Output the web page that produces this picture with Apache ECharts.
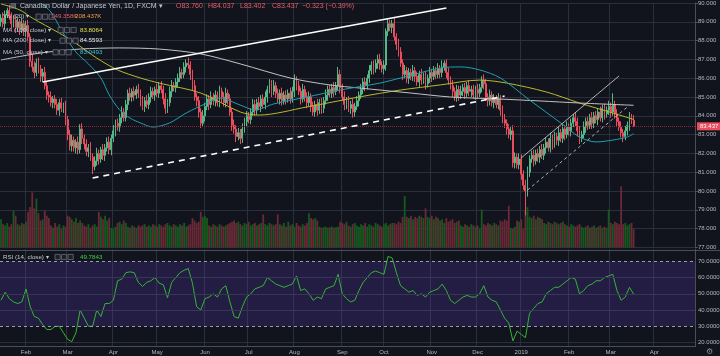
<!DOCTYPE html>
<html><head><meta charset="utf-8">
<script src="https://cdn.jsdelivr.net/npm/echarts/dist/echarts.min.js"></script>
<style>html,body{margin:0;padding:0;background:#11141d;}#c{width:720px;height:356px;}</style>
</head><body><div id="c"></div>
<script>
// ---------- axis / categories ----------
const firstDay = [2018, 0, 16];          // first weekday bar shown
const categoryCount = 334;               // weekday slots incl. empty future area
const monthLabels = ['Jan','Feb','Mar','Apr','May','Jun','Jul','Aug','Sep','Oct','Nov','Dec'];
const priceTicks = {min: 77, max: 90, step: 1};
const rsiTicks = [20, 30, 40, 50, 60, 70];

// ---------- OHLC (daily, FXCM CAD/JPY) ----------
const firstOpen = 89.0;
const closes = [
89.2,88.9,89.4,89.6,89.3,88.9,89.1,88.7,89.0,88.6,
88.9,88.5,88.8,88.2,86.9,86.6,86.3,86.8,86.5,86.1,
86.3,85.6,85.1,85.0,84.7,84.9,84.6,84.3,84.7,84.4,
84.5,83.8,83.0,82.4,82.7,82.3,82.6,82.2,83.3,82.8,
82.5,82.1,82.3,81.8,81.3,81.6,82.0,81.7,82.2,81.9,
82.3,82.6,82.2,82.8,83.2,83.6,83.4,83.9,84.2,83.9,
84.6,85.2,85.0,85.3,85.1,85.4,85.2,84.8,84.5,84.8,
84.6,85.0,85.3,85.1,85.4,85.2,85.6,85.4,84.9,84.4,
84.7,85.3,85.6,85.5,85.8,86.0,86.3,86.2,86.6,86.8,
86.7,86.2,85.6,85.0,84.8,84.2,83.6,84.0,84.5,84.9,
84.6,85.0,84.8,85.1,84.7,85.3,85.0,84.7,85.2,84.9,
84.2,83.5,83.3,82.9,83.1,82.8,83.3,83.7,84.0,83.8,
84.2,84.6,84.3,84.7,84.5,84.9,84.6,85.0,85.4,85.7,
85.3,85.6,85.2,84.9,85.2,84.8,85.1,84.9,85.2,84.9,
85.3,85.9,85.6,85.3,84.9,85.4,85.0,84.7,85.0,84.5,
84.2,84.6,84.3,84.7,84.4,84.8,85.1,85.4,85.2,85.5,
85.3,85.6,86.2,85.5,85.0,84.6,84.8,84.4,84.6,84.2,
84.5,84.8,85.1,85.4,85.8,85.6,86.0,86.4,86.7,86.5,
86.8,87.0,86.7,86.5,86.7,88.5,88.9,88.7,88.9,88.2,
87.8,87.4,86.8,86.2,86.4,86.0,86.3,86.1,86.4,86.1,
85.8,86.2,85.9,86.1,85.7,86.0,86.3,86.1,86.4,86.2,
86.5,86.3,86.6,86.8,86.3,85.9,85.6,85.3,85.0,85.4,
85.1,85.3,85.5,85.2,85.6,85.3,85.4,85.1,85.4,85.2,
85.5,85.9,85.7,85.0,84.8,85.1,84.7,84.9,84.6,84.9,
84.3,83.8,83.6,83.3,83.0,83.2,81.5,81.8,81.4,81.7,
80.9,80.3,80.0,81.0,81.7,81.9,81.6,82.0,81.8,82.2,
81.9,82.3,82.6,82.3,82.8,82.5,82.9,82.7,83.1,82.8,
83.3,83.0,83.4,83.2,83.6,83.9,83.7,83.2,82.8,83.0,
83.4,83.7,83.5,83.9,83.6,84.0,83.8,84.2,83.9,84.4,
84.1,84.3,84.5,84.2,84.6,84.1,83.7,83.4,83.1,82.9,
83.2,83.5,83.9,83.76,83.437];
// upper / lower wick length above / below the body (yen)
const wickHigh = [
.2,.3,.2,.15,.3,.2,.25,.3,.2,.15, .3,.2,.25,.3,.2,.4,.3,.25,.3,.2,
.2,.3,.25,.2,.3,.15,.2,.3,.2,.25, .2,.3,.2,.25,.3,.2,.15,.3,.25,.3,
.2,.25,.2,.3,.2,.25,.3,.2,.15,.3, .2,.25,.3,.2,.3,.2,.25,.2,.3,.2,
.25,.2,.3,.15,.25,.2,.3,.2,.25,.2, .3,.2,.25,.2,.15,.3,.2,.25,.2,.3,
.2,.25,.3,.2,.2,.25,.3,.2,.25,.2, .3,.2,.25,.3,.2,.25,.2,.3,.2,.25,
.2,.3,.2,.25,.2,.3,.2,.25,.3,.2, .25,.2,.3,.2,.25,.2,.3,.2,.25,.2,
.2,.3,.25,.2,.3,.2,.25,.3,.2,.25, .2,.3,.2,.25,.2,.3,.2,.25,.2,.3,
.25,.3,.2,.25,.2,.3,.2,.25,.3,.2, .25,.2,.3,.2,.25,.2,.3,.2,.25,.2,
.3,.2,.4,.25,.2,.3,.2,.25,.2,.3, .2,.25,.2,.3,.2,.25,.2,.3,.2,.25,
.2,.25,.3,.2,.25,.15,.25,.2,.2,.3, .2,.3,.25,.2,.3,.2,.25,.2,.3,.2,
.25,.2,.3,.2,.25,.2,.3,.2,.25,.2, .3,.2,.35,.15,.2,.25,.2,.3,.2,.25,
.2,.3,.2,.25,.2,.3,.2,.25,.2,.3, .2,.2,.3,.25,.2,.3,.2,.25,.2,.3,
.2,.25,.3,.2,.25,.2,.3,.25,.2,.3, .25,.2,.3,.3,.2,.25,.3,.2,.25,.2,
.3,.2,.25,.2,.3,.2,.25,.2,.3,.2, .25,.2,.3,.2,.25,.2,.3,.2,.25,.2,
.3,.2,.25,.2,.3,.2,.25,.2,.3,.2, .25,.2,.3,.2,.6,.2,.25,.2,.3,.2,
.25,.2,.3,.2,.277];
const wickLow = [
.25,.2,.3,.2,.2,.3,.2,.25,.2,.3, .2,.25,.3,.2,.3,.25,.3,.2,.25,.3,
.3,.2,.25,.3,.2,.3,.2,.25,.3,.2, .25,.3,.3,.25,.3,.2,.3,.25,.2,.3,
.3,.25,.3,.2,.4,.2,.25,.3,.2,.25, .3,.2,.25,.3,.2,.3,.2,.25,.3,.2,
.2,.3,.2,.25,.3,.2,.25,.3,.2,.3, .2,.25,.3,.2,.3,.2,.25,.2,.3,.3,
.25,.2,.3,.2,.25,.3,.2,.25,.2,.3, .2,.3,.25,.2,.3,.3,.25,.2,.3,.2,
.3,.2,.25,.3,.2,.25,.3,.2,.25,.3, .2,.3,.25,.3,.2,.3,.25,.2,.3,.2,
.25,.2,.3,.25,.2,.3,.2,.25,.3,.2, .3,.2,.25,.2,.3,.25,.2,.3,.2,.25,
.2,.3,.25,.2,.3,.2,.25,.3,.2,.3, .2,.25,.3,.2,.3,.25,.2,.3,.2,.25,
.3,.2,.25,.3,.2,.3,.25,.2,.3,.3, .25,.2,.3,.2,.25,.3,.2,.25,.2,.3,
.2,.3,.25,.2,.3,.3,.25,.2,.3,.2, .3,.25,.2,.3,.2,.25,.3,.2,.25,.3,
.2,.3,.25,.2,.3,.2,.25,.3,.2,.25, .2,.3,.25,.2,.3,.25,.2,.3,.2,.25,
.3,.2,.25,.3,.2,.25,.3,.2,.25,.3, .2,.25,.3,.2,.3,.25,.2,.3,.2,.25,
.3,.2,.25,.3,.2,.3,.25,.3,.2,.25, .3,.25,1.3,.3,.25,.2,.3,.2,.25,.3,
.2,.25,.3,.2,.25,.3,.2,.25,.3,.2, .25,.3,.2,.25,.3,.2,.25,.3,.3,.2,
.2,.3,.25,.2,.3,.25,.2,.3,.2,.25, .3,.2,.25,.3,.2,.25,.3,.2,.25,.3,
.2,.25,.3,.2,.035];
// daily volume, thousands
const volumesK = [
230,190,180,200,170,190,300,260,190,180, 200,190,210,290,330,450,320,400,280,220,
230,300,260,240,180,160,200,170,190,150, 180,170,260,250,230,210,240,200,220,200,
180,170,190,160,180,190,170,290,250,230, 260,220,240,160,150,170,200,210,190,220,
200,170,160,180,170,160,180,170,180,190, 170,180,170,190,180,170,190,180,170,190,
200,180,170,190,180,170,190,180,200,170, 180,190,240,220,200,210,290,250,260,240,
180,170,190,180,170,190,180,170,180,190, 200,210,220,200,210,190,180,200,190,210,
180,190,200,180,190,200,270,190,180,200, 190,180,190,270,190,180,200,170,210,180,
190,170,200,180,170,190,180,200,280,240, 230,240,220,170,160,165,170,160,165,170,
160,165,170,210,200,190,210,180,170,190, 200,180,170,190,180,200,170,190,180,170,
200,190,180,170,190,200,180,190,200,200, 190,210,200,250,420,250,240,260,230,250,
240,260,250,240,320,250,240,260,230,250, 240,220,230,200,240,210,220,230,200,210,
220,180,170,190,180,170,190,180,170,180, 150,310,190,180,200,190,180,200,190,180,
220,210,230,220,340,160,150,170,220,210, 230,150,300,330,250,240,260,230,250,240,
230,200,190,210,200,190,210,200,190,200, 210,190,180,170,190,180,170,180,190,170,
160,170,180,160,170,180,160,170,180,160, 170,160,310,200,190,210,200,190,500,190,
200,180,190,200,149.358];
// moving averages: [bar index, value]
const ma100 = [[0,89.95],[9,89.63],[15,89.2],[28,88.4],[35,87.93],[46,87.07],[56,86.44],[67,86.01],[76,85.74],[96,85.21],[115,84.2],[124,84.04],[147,84.47],[172,85.0],[192,85.37],[211,85.64],[230,85.9],[243,85.74],[262,85.27],[278,84.68],[294,84.15],[304,83.8064]];
const ma200 = [[0,86.97],[19,87.34],[38,87.55],[57,87.61],[76,87.55],[96,87.29],[115,86.76],[139,86.01],[158,85.64],[172,85.48],[197,85.21],[216,85.0],[240,84.89],[259,84.79],[278,84.68],[304,84.5593]];
const ma50 = [[19,90.0],[24,89.52],[29,88.56],[36,87.39],[42,86.76],[48,86.01],[52,85.11],[57,84.31],[62,83.88],[67,83.62],[73,83.4],[81,83.62],[89,84.15],[99,84.68],[105,84.95],[115,84.57],[122,84.31],[131,84.63],[147,85.0],[163,85.37],[182,85.74],[192,86.01],[211,86.54],[221,86.6],[230,86.44],[240,86.01],[254,84.84],[269,83.62],[278,82.87],[286,82.61],[294,82.71],[301,82.87],[304,83.0493]];
// RSI(14) read every second bar, starting at bar 0
const rsiEvery2 = [
46,51,47,45,44,45,53,42,36,35, 31,28,28,30,30,26,22,20.5,26,40,
35,30,30,40,36,44,44,46,58,59, 63,63.5,63,57,54.5,57,58,60,56.5,55.5,
47.5,57,60,63,64.5,65.5,56.5,42,
40,47,48,50,48,53,55,45,36,35, 42,48,50,53,54,55,60,58,56,55,
54,55,56,61,52,53,50,46,48,47, 53,54,55,62,50,47,45,46,52,57,
60,63,64,63,62,73,72,63,55,53, 51,52,49,50,48,51,52,53,56,52,
46,44,46,48,49,48,48,50,55,48, 46,45,40,35,32,21,27,25,23,38,
41,44,45,50,52,54,54,56,58,60, 59,50,52,55,56,58,58,60,61,62,
52,46,48,54,49.7843];
// hand-drawn trend lines: [bar index, price]
const trendLines = [
  {from:[20,85.80], to:[214,89.73], kind:'main'},
  {from:[44,80.69], to:[242,85.05], kind:'mainDashed'},
  {from:[250,81.76], to:[297,86.12], kind:'thin'},
  {from:[253,80.05], to:[301,84.47], kind:'thinDashed'}
];
const lastPrice = 83.437;

// ---------- build ----------
const categories = [];
{ const d = new Date(Date.UTC(firstDay[0], firstDay[1], firstDay[2]));
  while (categories.length < categoryCount) {
    const wd = d.getUTCDay();
    if (wd !== 0 && wd !== 6) categories.push(d.toISOString().slice(0,10));
    d.setUTCDate(d.getUTCDate() + 1);
  } }
const isMonthStart = i => i > 0 && categories[i].slice(5,7) !== categories[i-1].slice(5,7);
const monthFmt = v => { const m = +v.slice(5,7) - 1; return m === 0 ? v.slice(0,4) : monthLabels[m]; };

const UP = '#53b987', DOWN = '#eb4d5c';
const VUP = '#17581f', VDOWN = '#6a2936';
const GRID = '#2b2f3b', AXIS = '#4a4e5a', LBL = '#b2b5be', TXT = '#c5c8d0', RED = '#e85d6c';

const candles = closes.map((c, i) => {
  const o = i ? closes[i-1] : firstOpen;
  return [o, c, +(Math.min(o,c) - wickLow[i]).toFixed(3), +(Math.max(o,c) + wickHigh[i]).toFixed(3)];
});
const volData = volumesK.map((v, i) => ({value: v, itemStyle: {color: candles[i][1] >= candles[i][0] ? VUP : VDOWN}}));
const rsiData = rsiEvery2.map((v, k) => [2*k, v]);

const trendStyle = {
  main: {color:'#ffffff', width:1.6, type:'solid'},
  mainDashed: {color:'#ffffff', width:1.6, type:[6,5]},
  thin: {color:'#d8d8d8', width:0.8, type:'solid'},
  thinDashed: {color:'#d8d8d8', width:0.8, type:[3,3]}
};
const trendData = trendLines.map(t => [{coord: t.from, lineStyle: trendStyle[t.kind]}, {coord: t.to}]);

// header text
const hdr = [];
function txt(x, y, t, c, fs) { hdr.push({type:'text', x, y, silent:true, z:100, style:{text:t, fill:c, fontSize: fs || 7, fontFamily:'Liberation Sans', align:'left', verticalAlign:'middle'}}); }
function icons(x, y) { for (let k = 0; k < 3; k++) hdr.push({type:'rect', silent:true, z:100, shape:{x: x + k*6.5, y: y - 2.6, width:5.2, height:5.2}, style:{fill:'#1c1f2a', stroke:'#6b6f7a', lineWidth:0.8}}); }
const FS = 6.2;
txt(10, 5.7, '▤', '#8c909c');
txt(20, 5.7, 'Canadian Dollar / Japanese Yen, 1D, FXCM ▾', TXT);
txt(176, 5.7, 'O83.760', RED); txt(208, 5.7, 'H84.037', RED); txt(240, 5.7, 'L83.402', RED); txt(272, 5.7, 'C83.437', RED);
txt(302, 5.7, '−0.323 (−0.39%)', RED);
txt(3, 16.7, 'Vol (20) ▾', TXT, FS); icons(36, 16.7); txt(51, 16.7, '149.358K', RED, FS); txt(75, 16.7, '208.437K', '#f0a04b', FS);
txt(3, 30, 'MA (100, close) ▾', TXT, FS); icons(58, 30); txt(80, 30, '83.8064', '#e3e34c', FS);
txt(3, 40.7, 'MA (200, close) ▾', TXT, FS); icons(60, 40.7); txt(80, 40.7, '84.5593', '#e8e8e8', FS);
txt(3, 52.3, 'MA (50, close) ▾', TXT, FS); icons(53, 52.3); txt(80, 52.3, '83.0493', '#3fc6d6', FS);
txt(3, 257, 'RSI (14, close) ▾', TXT, FS); icons(55, 257); txt(80, 257, '49.7843', '#3fd13f', FS);
txt(706, 352, '⚙', '#8a8e99', 8);
hdr.push({type:'line', silent:true, z:50, shape:{x1:0, y1:250.5, x2:720, y2:250.5}, style:{stroke:'#4a4e5a', lineWidth:1}});

const gridBase = {left:0, right:25, containLabel:false, outerBoundsMode:'none'};
const option = {
  backgroundColor: '#11141d',
  animation: false,
  textStyle: {fontFamily: 'Liberation Sans'},
  grid: [
    Object.assign({top:3, height:244.4}, gridBase),
    Object.assign({top:168, height:79.4}, gridBase),
    Object.assign({top:249.1, height:97.5}, gridBase)
  ],
  xAxis: [
    {type:'category', gridIndex:0, data:categories, axisLine:{show:false}, axisTick:{show:false}, axisLabel:{show:false},
     splitLine:{show:true, interval:(i)=>isMonthStart(i), lineStyle:{color:GRID, width:1}}},
    {type:'category', gridIndex:1, data:categories, show:false},
    {type:'category', gridIndex:2, data:categories, axisLine:{show:true, lineStyle:{color:AXIS}}, axisTick:{show:false},
     axisLabel:{interval:(i)=>isMonthStart(i), formatter:monthFmt, color:LBL, fontSize:6, margin:3},
     splitLine:{show:true, interval:(i)=>isMonthStart(i), lineStyle:{color:GRID, width:1}}}
  ],
  yAxis: [
    {type:'value', gridIndex:0, position:'right', min:priceTicks.min, max:priceTicks.max, interval:priceTicks.step,
     axisLine:{show:true, lineStyle:{color:AXIS}}, axisTick:{show:true, length:3, lineStyle:{color:AXIS}},
     axisLabel:{formatter:v=>v.toFixed(3), color:LBL, fontSize:6, margin:3}, splitLine:{show:true, lineStyle:{color:GRID}}},
    {type:'value', gridIndex:1, min:0, max:650, show:false},
    {type:'value', gridIndex:2, position:'right', min:17.5, max:77.5, interval:2.5,
     axisLine:{show:true, lineStyle:{color:AXIS}}, axisTick:{show:false},
     axisLabel:{formatter:v=> rsiTicks.some(t=>Math.abs(t-v)<1e-6) ? v.toFixed(4) : '', color:LBL, fontSize:6, margin:3},
     splitLine:{show:false}}
  ],
  series: [
    {type:'bar', name:'Vol', xAxisIndex:1, yAxisIndex:1, data:volData, barCategoryGap:'12%', z:1, silent:true},
    {type:'candlestick', name:'CADJPY', xAxisIndex:0, yAxisIndex:0, data:candles, barWidth:1.4, z:3,
     itemStyle:{color:UP, color0:DOWN, borderColor:UP, borderColor0:DOWN, borderWidth:1},
     markLine:{symbol:['none','none'], silent:true, animation:false, z:6,
       label:{show:false},
       data:[
         {yAxis:lastPrice, lineStyle:{color:'#8a2d3b', type:'dotted', width:1},
          label:{show:true, position:'end', formatter:lastPrice.toFixed(3), color:'#ffffff', backgroundColor:DOWN, padding:[1,3,1,3], fontSize:6, distance:2}},
         ...trendData
       ]}},
    {type:'line', name:'MA100', xAxisIndex:0, yAxisIndex:0, data:ma100, smooth:0.3, symbol:'none', lineStyle:{color:'#b9b92e', width:1}, z:4},
    {type:'line', name:'MA200', xAxisIndex:0, yAxisIndex:0, data:ma200, smooth:0.3, symbol:'none', lineStyle:{color:'#c2c2c2', width:1}, z:4},
    {type:'line', name:'MA50', xAxisIndex:0, yAxisIndex:0, data:ma50, smooth:0.3, symbol:'none', lineStyle:{color:'#229fb0', width:1}, z:4},
    {type:'line', name:'RSI', xAxisIndex:2, yAxisIndex:2, data:rsiData, symbol:'none', lineStyle:{color:'#33b533', width:1}, z:4,
     markArea:{silent:true, itemStyle:{color:'rgba(98,60,190,0.24)'}, data:[[{yAxis:30},{yAxis:70}]]},
     markLine:{symbol:['none','none'], silent:true, label:{show:false}, data:[
       {yAxis:60, lineStyle:{color:'#3a3455', type:'solid', width:1}},
       {yAxis:50, lineStyle:{color:'#3a3455', type:'solid', width:1}},
       {yAxis:40, lineStyle:{color:'#3a3455', type:'solid', width:1}},
       {yAxis:20, lineStyle:{color:GRID, type:'solid', width:1}},
       {yAxis:70, lineStyle:{color:'#9a9daa', type:[3,3], width:1}},
       {yAxis:30, lineStyle:{color:'#9a9daa', type:[3,3], width:1}}
     ]}}
  ],
  graphic: hdr
};
const chart = echarts.init(document.getElementById('c'), null, {renderer:'canvas'});
chart.setOption(option);
</script></body></html>
